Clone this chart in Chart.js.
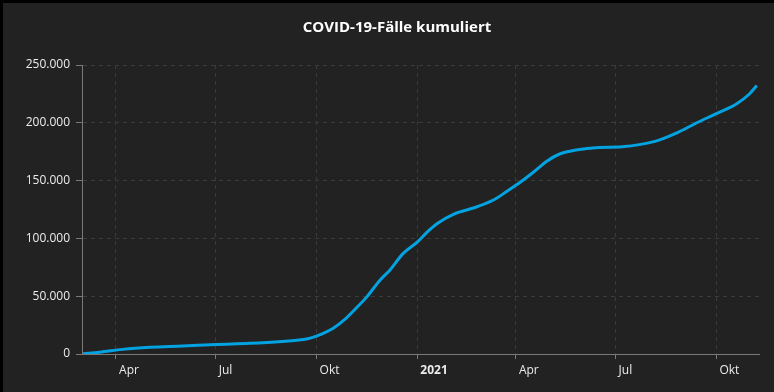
<!DOCTYPE html>
<html lang="de">
<head>
<meta charset="utf-8">
<title>COVID-19-Fälle kumuliert</title>
<script src="https://cdn.jsdelivr.net/npm/chart.js@4/dist/chart.umd.min.js"></script>
<style>
    html, body { margin: 0; padding: 0; background: #000; }
    #wrap {
        position: absolute;
        left: 3px;
        top: 3px;
        width: 771px;
        height: 389px;
        background: #222222;
    }
</style>
</head>
<body>
<div id="wrap"><canvas id="casesChart"></canvas></div>
<script>
// Kumulierte Fälle
const dates = [
    '2020-03-02', '2020-03-17', '2020-04-07', '2020-05-02', '2020-06-01',
    '2020-07-02', '2020-08-01', '2020-08-31', '2020-09-22', '2020-10-01',
    '2020-10-16', '2020-10-28', '2020-11-06', '2020-11-16', '2020-11-28',
    '2020-12-07', '2020-12-19', '2021-01-01', '2021-01-10', '2021-01-19',
    '2021-02-04', '2021-02-22', '2021-03-12', '2021-03-24', '2021-04-05',
    '2021-04-17', '2021-04-29', '2021-05-11', '2021-05-26', '2021-06-16',
    '2021-07-07', '2021-08-06', '2021-08-25', '2021-09-12', '2021-09-30',
    '2021-10-19', '2021-10-31', '2021-11-07'
];
const cases = [
    300, 1500, 4000, 5800, 6900,
    8300, 9200, 10900, 12900, 15500,
    22100, 30800, 39400, 49400, 63800,
    72500, 86800, 96800, 105400, 112700,
    121300, 126500, 133400, 140800, 148500,
    157200, 166600, 173000, 176500, 178700,
    179300, 183900, 190800, 199400, 207500,
    216100, 224700, 232200
];

// Achsenbeschriftung
const monthTickDates = ['2020-04-01', '2020-07-01', '2020-10-01', '2021-01-01',
                        '2021-04-01', '2021-07-01', '2021-10-01'];
const monthTickLabels = ['Apr', 'Jul', 'Okt', '2021', 'Apr', 'Jul', 'Okt'];
const axisStart = '2020-03-01';
const axisEnd = '2021-11-09';
const yTicks = [0, 50000, 100000, 150000, 200000, 250000];
const chartTitle = 'COVID-19-Fälle kumuliert';

const DAY = 86400000;
function dayIndex(iso) {
    return (Date.parse(iso + 'T00:00:00Z') - Date.parse(axisStart + 'T00:00:00Z')) / DAY;
}

const points = dates.map((d, i) => ({ x: dayIndex(d), y: cases[i] }));
const monthTicks = monthTickDates.map(dayIndex);

const fontFamily = '"Open Sans", "Segoe UI", sans-serif';

// Titel steht im Original etwas rechts der Mitte, daher selbst gezeichnet
const titlePlugin = {
    id: 'offsetTitle',
    afterDraw(chart) {
        const ctx = chart.ctx;
        ctx.save();
        ctx.font = 'bold 15px ' + fontFamily;
        ctx.fillStyle = '#ffffff';
        ctx.textAlign = 'center';
        ctx.textBaseline = 'middle';
        ctx.fillText(chartTitle, 394, 24.5);
        ctx.restore();
    }
};

new Chart(document.getElementById('casesChart'), {
    type: 'line',
    data: {
        datasets: [{
            label: 'Fälle kumuliert',
            data: points,
            borderColor: '#03a3e2',
            borderWidth: 3,
            pointRadius: 0,
            fill: false,
            cubicInterpolationMode: 'monotone'
        }]
    },
    plugins: [titlePlugin],
    options: {
        responsive: true,
        maintainAspectRatio: false,
        animation: false,
        layout: {
            padding: { left: 0, right: 15, top: 62, bottom: 0 }
        },
        plugins: {
            legend: { display: false },
            tooltip: { enabled: false },
            title: { display: false }
        },
        scales: {
            x: {
                type: 'linear',
                min: dayIndex(axisStart),
                max: dayIndex(axisEnd),
                afterBuildTicks: scale => {
                    scale.ticks = monthTicks.map(v => ({ value: v }));
                },
                afterFit: scale => { scale.height = 38; },
                grid: {
                    color: '#3b3b3b',
                    tickColor: '#7a7a7a',
                    tickLength: 5
                },
                border: { color: '#7a7a7a', width: 1, dash: [4, 4] },
                ticks: {
                    autoSkip: false,
                    maxRotation: 0,
                    align: 'start',
                    padding: 4,
                    color: '#ececec',
                    font: ctx => ({
                        family: fontFamily,
                        size: 12,
                        weight: ctx.tick && ctx.tick.label.trim() === '2021' ? 'bold' : 'normal'
                    }),
                    callback: value => {
                        const i = monthTicks.indexOf(value);
                        return i >= 0 ? ' ' + monthTickLabels[i] : '';
                    }
                }
            },
            y: {
                min: 0,
                max: 250000,
                afterBuildTicks: scale => {
                    scale.ticks = yTicks.map(v => ({ value: v }));
                },
                afterFit: scale => { scale.width = 79; },
                grid: {
                    color: '#3b3b3b',
                    tickColor: '#7a7a7a',
                    tickLength: 6
                },
                border: { color: '#7a7a7a', width: 1, dash: [4, 4] },
                ticks: {
                    padding: 6,
                    color: '#ececec',
                    font: { family: fontFamily, size: 12 },
                    callback: value => value.toLocaleString('de-DE')
                }
            }
        }
    }
});
</script>
</body>
</html>
